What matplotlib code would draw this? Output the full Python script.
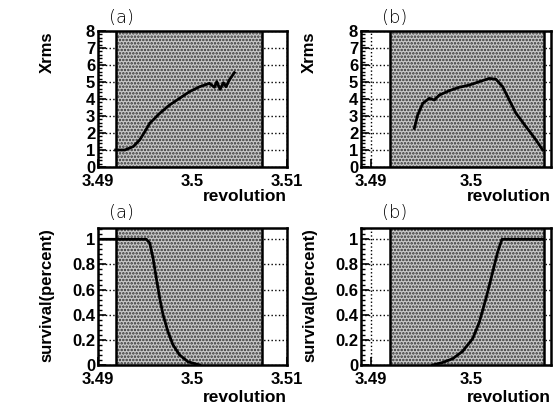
import matplotlib
matplotlib.use('Agg')
import matplotlib.pyplot as plt
import matplotlib.ticker as ticker

plt.rcParams['font.family'] = 'Liberation Sans'
plt.rcParams['font.weight'] = 'bold'
plt.rcParams['hatch.linewidth'] = 1.2

# 資料
shade_lo, shade_hi = 3.4919, 3.5073

xrms_a_x = [3.49186, 3.49284, 3.49372, 3.49442, 3.49495, 3.49547, 3.49653, 3.49758,
            3.49863, 3.49968, 3.50074, 3.50179, 3.50232, 3.50256, 3.50292, 3.50326,
            3.50354, 3.50389, 3.50442]
xrms_a_y = [1.0, 1.0, 1.2, 1.6, 2.08, 2.57, 3.16, 3.65, 4.04, 4.43, 4.72, 4.92,
            4.69, 5.02, 4.57, 4.96, 4.72, 5.12, 5.55]

xrms_b_x = [3.49433, 3.49467, 3.49517, 3.49583, 3.49633, 3.49683, 3.49783, 3.49883,
            3.49983, 3.50083, 3.50183, 3.5025, 3.50317, 3.50383, 3.5045, 3.5055,
            3.5065, 3.50717]
xrms_b_y = [2.27, 3.06, 3.74, 4.04, 3.94, 4.23, 4.49, 4.69, 4.82, 5.02, 5.21, 5.16,
            4.72, 3.94, 3.16, 2.37, 1.59, 1.0]

surv_a_x = [3.4902, 3.49512, 3.49547, 3.49582, 3.49617, 3.49653, 3.49688, 3.4974,
            3.49793, 3.49863, 3.49951, 3.50074]
surv_a_y = [1.0, 1.0, 0.97, 0.85, 0.69, 0.53, 0.40, 0.265, 0.16, 0.08, 0.026, 0.0]

surv_b_x = [3.49617, 3.49717, 3.49817, 3.49917, 3.50017, 3.50083, 3.5015, 3.50217,
            3.50267, 3.5031, 3.50717]
surv_b_y = [0.0, 0.02, 0.05, 0.11, 0.21, 0.34, 0.53, 0.74, 0.90, 1.0, 1.0]

xt_a = [3.49, 3.5, 3.51]
xt_a_lab = ['3.49', '3.5', '3.51']
xt_b = [3.49, 3.5]
xt_b_lab = ['3.49', '3.5']
yt_top = [0, 1, 2, 3, 4, 5, 6, 7, 8]
yt_top_lab = ['0', '1', '2', '3', '4', '5', '6', '7', '8']
yt_bot = [0, 0.2, 0.4, 0.6, 0.8, 1.0]
yt_bot_lab = ['0', '0.2', '0.4', '0.6', '0.8', '1']

fig = plt.figure(figsize=(5.56, 4.08), dpi=100)
ax1 = fig.add_axes([0.1763, 0.5907, 0.340, 0.3333])
ax2 = fig.add_axes([0.6493, 0.5907, 0.3417, 0.3333])
ax3 = fig.add_axes([0.1763, 0.1054, 0.340, 0.3358])
ax4 = fig.add_axes([0.6493, 0.1054, 0.3417, 0.3358])

panels = [
    (ax1, xrms_a_x, xrms_a_y, (3.49, 3.51), xt_a, xt_a_lab, (0, 8), yt_top, yt_top_lab, 'Xrms', '(a)', 0.122, 1.092, -0.165),
    (ax2, xrms_b_x, xrms_b_y, (3.489, 3.508), xt_b, xt_b_lab, (0, 8), yt_top, yt_top_lab, 'Xrms', '(b)', 0.176, 1.092, -0.165),
    (ax3, surv_a_x, surv_a_y, (3.49, 3.51), xt_a, xt_a_lab, (0, 1.09), yt_bot, yt_bot_lab, 'survival(percent)', '(a)', 0.122, 1.106, -0.185),
    (ax4, surv_b_x, surv_b_y, (3.489, 3.508), xt_b, xt_b_lab, (0, 1.09), yt_bot, yt_bot_lab, 'survival(percent)', '(b)', 0.176, 1.106, -0.185),
]

for ax, xs, ys, xl, xt, xtl, yl, yt, ytl, ylab, tag, tx, ty, xly in panels:
    ax.axvspan(shade_lo, shade_hi, facecolor='#c8c8c8', edgecolor='#303030',
               hatch='.....', linewidth=0, zorder=2)
    ax.axvline(shade_lo, color='black', lw=1.8, zorder=3)
    ax.axvline(shade_hi, color='black', lw=1.8, zorder=3)
    ax.plot(xs, ys, color='black', lw=2, zorder=4)

    ax.set_xlim(*xl)
    ax.set_ylim(*yl)
    ax.set_xticks(xt)
    ax.set_xticklabels(xtl)
    ax.set_yticks(yt)
    ax.set_yticklabels(ytl)
    ax.yaxis.set_minor_locator(ticker.AutoMinorLocator(5))
    ax.grid(True, which='major', linestyle=':', color='black', lw=1.0, zorder=1)
    ax.set_axisbelow(True)
    ax.tick_params(which='major', direction='in', length=6, width=1.2, labelsize=12)
    ax.tick_params(axis='y', which='major', pad=2)
    ax.tick_params(axis='x', which='major', pad=5)
    ax.tick_params(which='minor', direction='in', length=3, width=1)
    for s in ax.spines.values():
        s.set_linewidth(1.8)
        s.set_zorder(5)

    ax.set_xlabel('revolution', fontsize=12.5, fontweight='bold', loc='right')
    ax.xaxis.set_label_coords(1.0, xly)
    ax.set_ylabel(ylab, fontsize=12, fontweight='bold', loc='top')
    ax.yaxis.set_label_coords(-0.23, 1.0)
    ax.text(tx, ty, tag, transform=ax.transAxes, ha='center', va='center',
            fontsize=13, fontweight='light', family='DejaVu Sans')

plt.savefig('out.png', dpi=100)
